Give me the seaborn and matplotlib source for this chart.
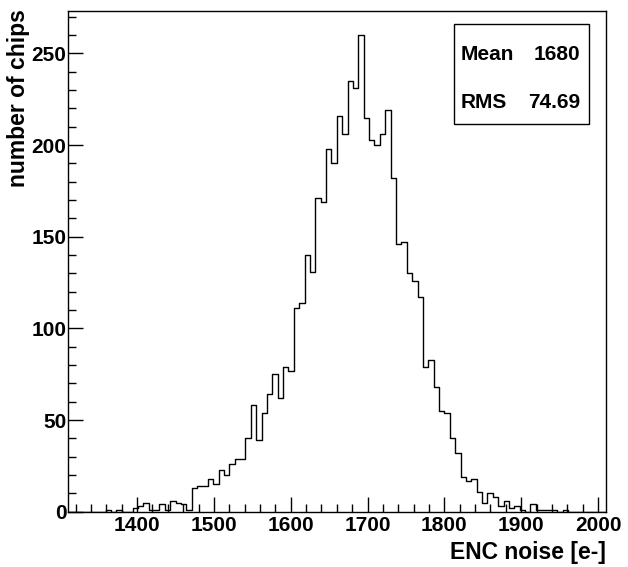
import numpy as np
import pandas as pd
import matplotlib
matplotlib.use("Agg")
import matplotlib.pyplot as plt
from matplotlib.ticker import MultipleLocator
from matplotlib.patches import Rectangle
import seaborn as sns

# ---- data ----
bin_low = 1310
bin_width = 7
n_bins = 100
counts = [
    0, 0, 0, 0, 0, 0, 0, 1, 0, 1,
    0, 0, 2, 3, 5, 1, 1, 4, 1, 6,
    5, 4, 1, 13, 14, 14, 18, 15, 23, 20,
    26, 29, 29, 40, 58, 39, 54, 64, 75, 62,
    79, 77, 111, 114, 140, 131, 171, 169, 198, 190,
    216, 206, 235, 231, 260, 215, 203, 200, 206, 219,
    182, 146, 147, 130, 126, 117, 79, 83, 68, 55,
    54, 40, 32, 19, 17, 18, 11, 5, 10, 8,
    3, 6, 2, 3, 1, 0, 4, 1, 1, 1,
    1, 0, 1, 0, 0, 0, 0, 0, 0, 0,
]
x_ticks = [1400, 1500, 1600, 1700, 1800, 1900, 2000]
y_ticks = [0, 50, 100, 150, 200, 250]
stat_names = ["Mean", "RMS"]
stat_values = ["1680", "74.69"]
x_title = "ENC noise [e-]"
y_title = "number of chips"

edges = [float(bin_low + bin_width * i) for i in range(n_bins + 1)]
centers = [e + bin_width / 2 for e in edges[:-1]]
df = pd.DataFrame({"noise": centers, "n": counts})

sns.set_style("white")
plt.rcParams["font.family"] = ["Liberation Sans", "DejaVu Sans"]
plt.rcParams["font.weight"] = "bold"
plt.rcParams["text.color"] = "black"
plt.rcParams["axes.labelcolor"] = "black"
plt.rcParams["xtick.color"] = "black"
plt.rcParams["ytick.color"] = "black"

fig = plt.figure(figsize=(6.28, 5.67), dpi=100)
W, H = 628, 567
ax = fig.add_axes([68 / W, 1 - 511.8 / H, (605.7 - 68) / W, (511.8 - 11.3) / H])

sns.histplot(data=df, x="noise", weights="n", bins=edges, element="step",
             fill=False, color="black", linewidth=1.0, ax=ax)

ax.set_xlim(1310, 2010)
ax.set_ylim(0, 273)
ax.set_xticks(x_ticks)
ax.set_yticks(y_ticks)
ax.xaxis.set_minor_locator(MultipleLocator(20))
ax.yaxis.set_minor_locator(MultipleLocator(10))
ax.tick_params(axis="both", which="major", direction="in", length=11, width=1.0,
               colors="black", labelcolor="black", labelsize=15)
ax.tick_params(axis="both", which="minor", direction="in", length=5.5, width=1.0,
               colors="black")
ax.tick_params(axis="x", which="both", top=False, bottom=True, pad=3)
ax.tick_params(axis="y", which="both", right=False, left=True, pad=1)
for lab in ax.get_xticklabels() + ax.get_yticklabels():
    lab.set_fontweight("bold")
    lab.set_color("black")
for sp in ax.spines.values():
    sp.set_color("black")
    sp.set_linewidth(1.0)
ax.set_xlabel("")
ax.set_ylabel("")

fig.text(606 / W, 1 - 553 / H, x_title, ha="right", va="center",
         fontsize=16.5, fontweight="bold", color="black")
fig.text(18.5 / W, 1 - 9 / H, y_title, ha="center", va="top", rotation=90,
         fontsize=16.5, fontweight="bold", color="black")

# stats box
bx0, by0, bx1, by1 = 454, 24, 589, 124
fig.patches.append(Rectangle((bx0 / W, 1 - by1 / H), (bx1 - bx0) / W, (by1 - by0) / H,
                             transform=fig.transFigure, fill=True, facecolor="white",
                             edgecolor="black", linewidth=1.0, zorder=5))
for i, (nm, val) in enumerate(zip(stat_names, stat_values)):
    yy = 1 - (54 + i * 48) / H
    fig.text(461 / W, yy, nm, ha="left", va="center", fontsize=15,
             fontweight="bold", color="black", zorder=6)
    fig.text(580 / W, yy, val, ha="right", va="center", fontsize=15,
             fontweight="bold", color="black", zorder=6)

fig.savefig("out.png", dpi=100, facecolor="white")
